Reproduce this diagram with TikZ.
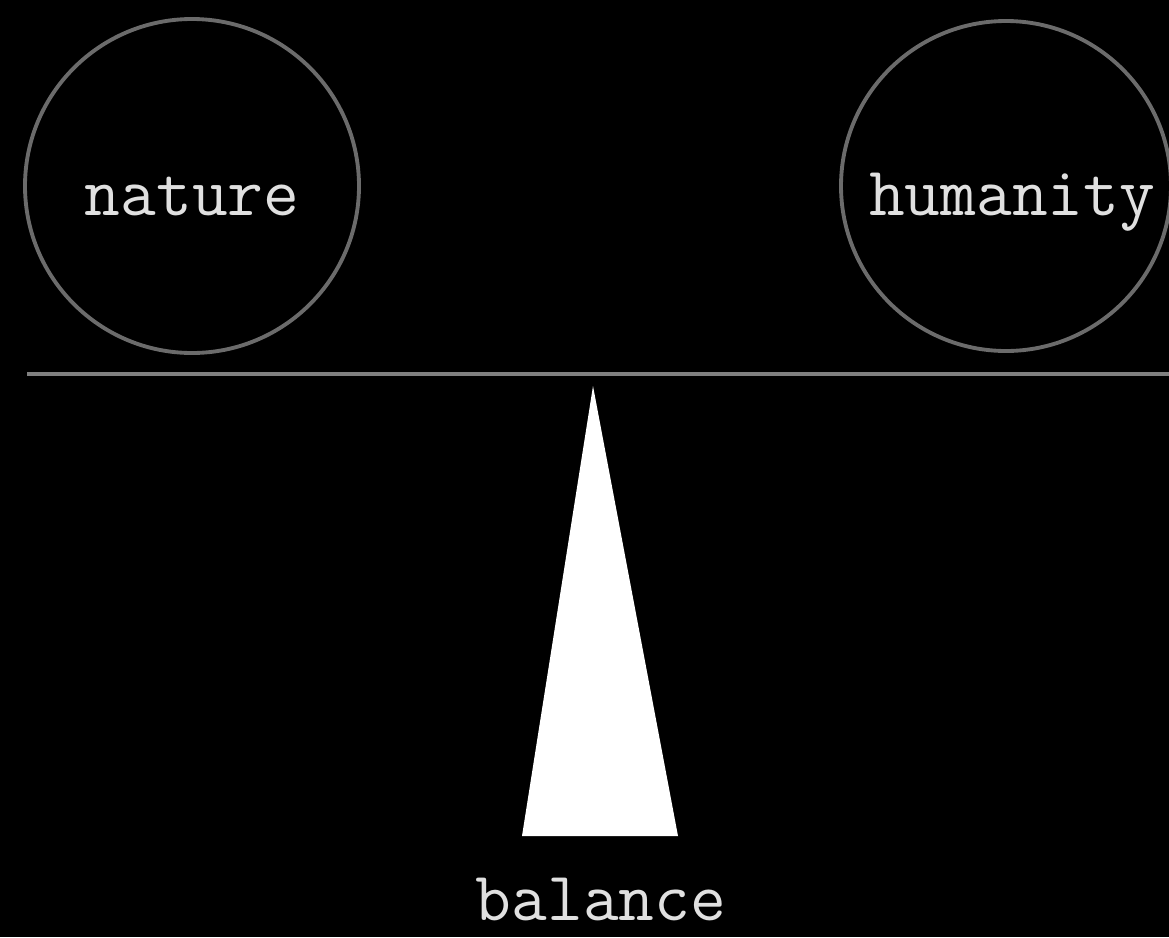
\documentclass[tikz,border=0pt]{standalone}
\tikzset{
  word/.style={text=white!88!black,font=\ttfamily\fontsize{39.5}{45}\selectfont,anchor=base,inner sep=0pt},
  pan/.style={draw=white!42!black,line width=2.2pt},
}
\begin{document}
\begin{tikzpicture}[x=0.02cm,y=-0.02cm]
  \fill[black] (0,0) rectangle (1169,937);
  \useasboundingbox (0,0) rectangle (1169,937);
  % the two pans
  \draw[pan] (192,186) circle[radius=167];
  \draw[pan] (1006,186) circle[radius=165];
  \node[word] (nature) at (192,215) {nature};
  \node[word] (humanity) at (1012,215) {humanity};
  % beam
  \draw[draw=white!50!black,line width=2.6pt] (27,374) -- (1169,374);
  % fulcrum
  \fill[white] (593,386) -- (678,836) -- (522,836) -- cycle;
  \node[word] (balance) at (601,920) {balance};
\end{tikzpicture}
\end{document}
